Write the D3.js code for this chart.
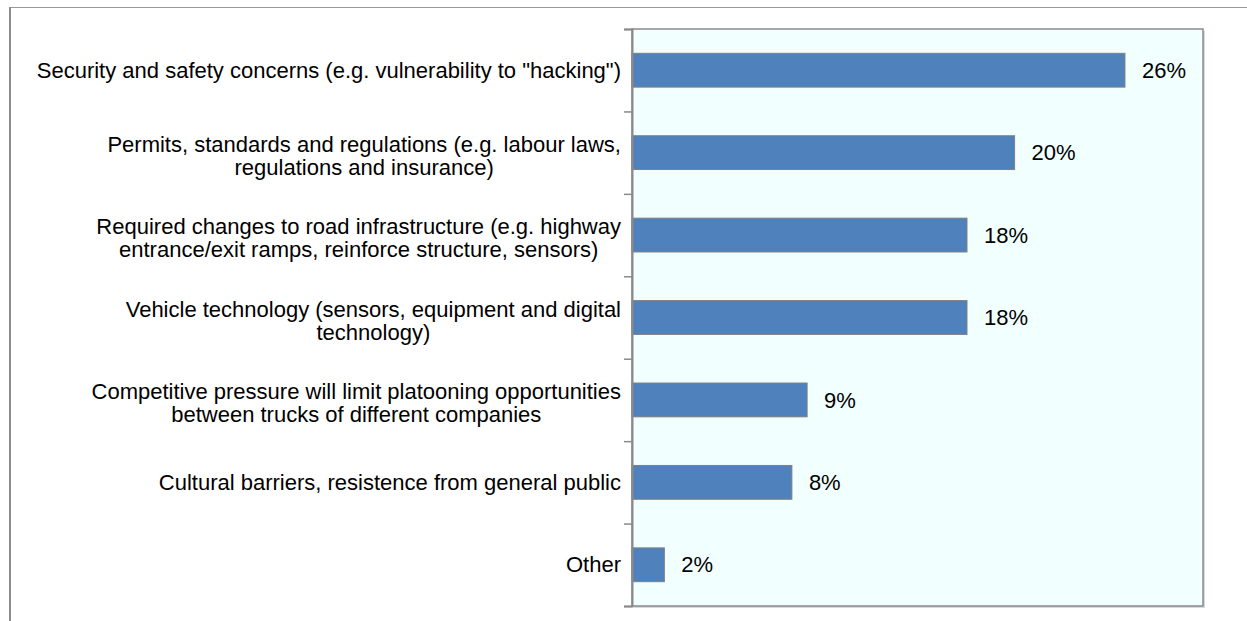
<!DOCTYPE html>
<html>
<head>
<meta charset="utf-8">
<script src="https://cdn.jsdelivr.net/npm/d3@7"></script>
<style>
  html, body { margin: 0; padding: 0; background: #ffffff; }
  svg { display: block; }
  text { font-family: "Liberation Sans", Arial, sans-serif; fill: #000; }
</style>
</head>
<body>
<svg id="chart" width="1247" height="621"></svg>
<script>
// ---- data ----
const categories = [
  ["Security and safety concerns (e.g. vulnerability to \"hacking\")"],
  ["Permits, standards and regulations (e.g. labour laws,", "regulations and insurance)"],
  ["Required changes to road infrastructure (e.g. highway", "entrance/exit ramps, reinforce structure, sensors)"],
  ["Vehicle technology (sensors, equipment and digital", "technology)"],
  ["Competitive pressure will limit platooning opportunities", "between trucks of different companies"],
  ["Cultural barriers, resistence from general public"],
  ["Other"]
];
const values = [25.9, 20.1, 17.6, 17.6, 9.2, 8.4, 1.7];
const xDomain = [0, 30];

// ---- layout ----
const W = 1247, H = 621;
const plot = { left: 632, right: 1203, top: 29, bottom: 606 };
const fontSize = 22;
const lineH = 23;

const svg = d3.select("#chart");

// outer frame (top + left lines)
svg.append("line").attr("x1", 10).attr("x2", W).attr("y1", 7.5).attr("y2", 7.5)
  .attr("stroke", "#999").attr("stroke-width", 1.2);
svg.append("line").attr("x1", 10).attr("x2", 10).attr("y1", 7).attr("y2", H)
  .attr("stroke", "#8c8c8c").attr("stroke-width", 2);

const x = d3.scaleLinear().domain(xDomain).range([plot.left, plot.right]);
const y = d3.scaleBand().domain(d3.range(categories.length))
  .range([plot.top, plot.bottom]).paddingInner(0.59).paddingOuter(0.295);
const yEdges = d3.scaleLinear().domain([0, categories.length]).range([plot.top, plot.bottom]);

// plot area shadow + background
svg.append("rect")
  .attr("x", plot.left + 2).attr("y", plot.top + 2)
  .attr("width", plot.right - plot.left).attr("height", plot.bottom - plot.top)
  .attr("fill", "#d9d9d9");
svg.append("rect")
  .attr("x", plot.left).attr("y", plot.top)
  .attr("width", plot.right - plot.left).attr("height", plot.bottom - plot.top)
  .attr("fill", "#F2FFFF").attr("stroke", "#8a8a8a").attr("stroke-width", 1.5);

// bars
svg.append("g").selectAll("rect").data(values).join("rect")
  .attr("x", x(0))
  .attr("y", (d, i) => y(i))
  .attr("width", d => x(d) - x(0))
  .attr("height", y.bandwidth())
  .attr("fill", "#4F81BD")
  .attr("stroke", "#7f7f7f")
  .attr("stroke-width", 1);

// value labels
const fmt = d => d3.format(".0f")(d) + "%";
svg.append("g").selectAll("text").data(values).join("text")
  .attr("x", d => x(d) + 17)
  .attr("y", (d, i) => y(i) + y.bandwidth() / 2)
  .attr("dy", "0.35em")
  .attr("font-size", fontSize)
  .text(fmt);

// left axis with ticks at category boundaries
const axis = d3.axisLeft(yEdges).tickValues(d3.range(categories.length + 1))
  .tickSize(8).tickFormat("");
const ag = svg.append("g").attr("transform", `translate(${plot.left},0)`).call(axis);
ag.select(".domain").attr("stroke", "#8a8a8a").attr("stroke-width", 2);
ag.selectAll(".tick line").attr("stroke", "#8a8a8a").attr("stroke-width", 1.5);

// category labels (lines centered within block, block right-aligned)
const labelRight = 621;
categories.forEach((lines, i) => {
  const cy = y(i) + y.bandwidth() / 2;
  const g = svg.append("g");
  const texts = lines.map((ln, k) => g.append("text")
    .attr("font-size", fontSize)
    .attr("text-anchor", "middle")
    .attr("y", cy + (k - (lines.length - 1) / 2) * lineH + (lines.length > 1 ? 3 : 0))
    .attr("dy", "0.35em")
    .text(ln));
  const maxW = d3.max(texts, t => t.node().getComputedTextLength());
  texts.forEach(t => t.attr("x", labelRight - maxW / 2));
});
</script>
</body>
</html>
